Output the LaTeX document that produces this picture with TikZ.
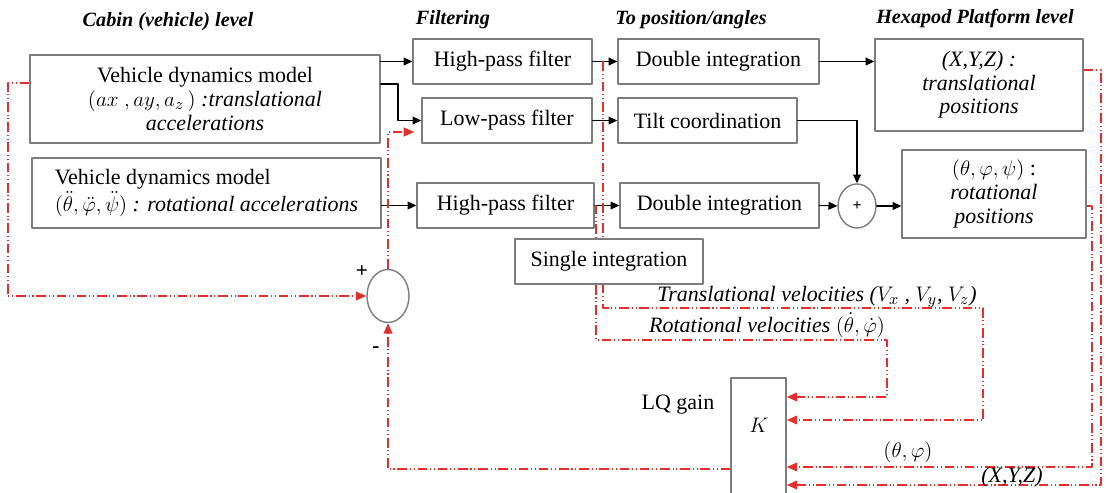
\documentclass[tikz,border=0pt]{standalone}
\usepackage{fontspec}
\setmainfont{LiberationSerif}[Extension=.ttf, UprightFont=*-Regular, BoldFont=*-Bold, ItalicFont=*-Italic, BoldItalicFont=*-BoldItalic]
\usetikzlibrary{arrows.meta,shapes.geometric}

\definecolor{fbred}{RGB}{228,45,45}
\definecolor{boxgray}{RGB}{125,125,125}

\begin{document}
\begin{tikzpicture}[
		x=0.02cm, y=-0.02cm,
		line cap=round, line join=round,
		font=\fontsize{12.5}{13.5}\selectfont,
		block/.style={draw=boxgray, line width=0.8pt, rectangle, inner sep=0pt, align=center, fill=white},
		title/.style={font=\fontsize{11.5}{13}\selectfont\bfseries\itshape},
		sumnode/.style={draw=boxgray, line width=0.8pt, ellipse, inner sep=0pt, fill=white},
		flow/.style={draw=black, line width=0.6pt, -{Triangle[length=5pt,width=4.5pt]}},
		fback/.style={draw=fbred, line width=0.9pt, line cap=butt,
			dash pattern=on 5.5pt off 1.6pt on 0.6pt off 1.6pt on 0.6pt off 1.6pt,
			-{Triangle[length=6pt,width=5pt]}}
		]
		
		\useasboundingbox (0,0) rectangle (1110,493);
		
		\node[title] (t1) at (168,22) {Cabin (vehicle) level};
		\node[title] (t2) at (453,20) {Filtering};
		\node[title] (t3) at (691,20) {To position/angles};
		\node[title] (t4) at (975,19) {Hexapod Platform level};
		
		\node[block, minimum width=7cm, minimum height=1.76cm] (vdm1) at (205,99)
			{Vehicle dynamics model\\ $(ax\ ,ay,a_z\,)$ \textit{:translational}\\ \textit{accelerations}};
		\node[block, minimum width=6.98cm, minimum height=1.4cm, align=left] (vdm2) at (206.5,193)
			{Vehicle dynamics model\\ $(\ddot\theta,\ddot\varphi,\ddot\psi)$\ \textit{: rotational accelerations}};
		
		\node[block, minimum width=3.58cm, minimum height=0.9cm] (hp1) at (502.5,61.5) {High-pass filter};
		\node[block, minimum width=3.4cm, minimum height=0.9cm] (lp) at (507,120.5) {Low-pass filter};
		\node[block, minimum width=3.54cm, minimum height=0.9cm] (hp2) at (505.5,205.5) {High-pass filter};
		
		\node[block, minimum width=4.02cm, minimum height=0.9cm] (di1) at (718.5,61.5) {Double integration};
		\node[block, minimum width=3.58cm, minimum height=0.9cm] (tilt) at (707.5,120.5) {Tilt coordination};
		\node[block, minimum width=3.98cm, minimum height=0.9cm] (di2) at (719.5,205.5) {Double integration};
		
		\node[block, minimum width=4.16cm, minimum height=1.84cm] (tpos) at (979,85)
			{\textit{(X,Y,Z) :}\\ \textit{translational}\\ \textit{positions}};
		\node[block, minimum width=3.68cm, minimum height=1.76cm] (rpos) at (994,194)
			{$(\theta,\varphi,\psi)$ :\\ \textit{rotational}\\ \textit{positions}};
		
		\node[sumnode, minimum width=0.76cm, minimum height=0.88cm, font=\small\bfseries] (plus) at (857,206) {+};
		\node[sumnode, minimum width=0.84cm, minimum height=1.06cm] (sum) at (388,296) {};
		\node[font=\large\bfseries] (sp) at (362,272) {+};
		\node[font=\large\bfseries] (sm) at (376,350) {-};
		
		\node[block, minimum width=1.1cm, minimum height=2.64cm] (gain) at (758.5,444) {};
		\node (klab) at (759,425) {$K$};
		\node (lqlab) at (678,405) {LQ gain};
		
		% forward path
		\draw[flow] (vdm1.east |- hp1) -- (hp1.west);
		\draw[flow] (vdm1.east |- 0,84) -- (398,84) |- (lp.west);
		\draw[flow] (vdm2.east |- hp2) -- (hp2.west);
		\draw[flow] (hp1.east) -- (di1.west);
		\draw[flow] (lp.east) -- (tilt.west);
		\draw[flow] (hp2.east) -- (di2.west);
		\draw[flow] (di1.east) -- (tpos.west |- di1.east);
		\draw[flow] (tilt.east) -| (plus.north);
		\draw[flow] (di2.east) -- (plus.west);
		\draw[flow] (plus.east) -- (rpos.west |- plus.east);
		
		% feedback
		\coordinate (fbl) at (8,83);
		\draw[fback] (vdm1.west |- fbl) -- (fbl) |- (sum.west);
		\draw[fback, shorten >=4pt] (sum.north) |- (lp.west |- 0,132);
		\draw[fback] (gain.west |- 0,469) -| (sum.south);
		
		\coordinate (tv) at (603,308);
		\coordinate (rv) at (596,340);
		\draw[fback] (tv |- hp1.east) -- (tv) -- (983,308) |- (gain.east |- 0,420);
		\draw[fback] (hp2.east) -| (rv) -- (887,340) |- (gain.east |- 0,397);
		\draw[fback] (rpos.east |- plus) -| (1092,467) -- (gain.east |- 0,467);
		\draw[fback] (tpos.east |- 0,70) -| (1101,485) -- (gain.east |- 0,485);
		
		\node[block, minimum width=3.76cm, minimum height=0.9cm] (sint) at (609,261.5) {Single integration};
		
		\node (tvlab) at (817,297) {\textit{Translational velocities ($V_x$ , $V_y$, $V_z$)}};
		\node (rvlab) at (767,325) {\textit{Rotational velocities} $(\dot\theta,\dot\varphi)$};
		\node (tplab) at (908,452) {$(\theta,\varphi)$};
		\node (xyzlab) at (1012,477) {\textit{(X,Y,Z)}};
		
\end{tikzpicture}
\end{document}
